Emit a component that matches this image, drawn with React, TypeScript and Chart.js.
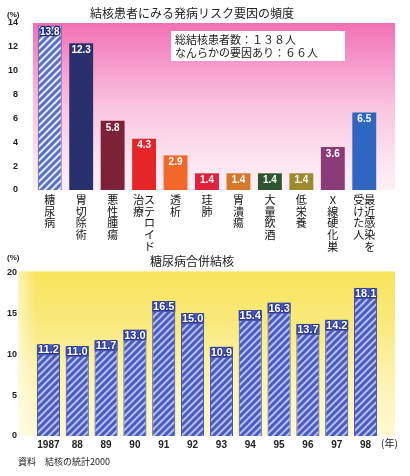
import React, { useEffect, useRef } from 'react';
import { Chart, registerables } from 'chart.js';

Chart.register(...registerables);

// ---------- data ----------
const TOP_TITLE = '結核患者にみる発病リスク要因の頻度';
const NOTE_LINES = ['総結核患者数：１３８人', 'なんらかの要因あり：６６人'];
// each factor: columns of vertical text, right-most column first
const RISK_FACTORS: string[][] = [
  ['糖尿病'],
  ['胃切除術'],
  ['悪性腫瘍'],
  ['ステロイド', '治療'],
  ['透析'],
  ['珪肺'],
  ['胃潰瘍'],
  ['大量飲酒'],
  ['低栄養'],
  ['X線硬化巣'],
  ['最近感染を', '受けた人'],
];
const RISK_VALUES = [13.8, 12.3, 5.8, 4.3, 2.9, 1.4, 1.4, 1.4, 1.4, 3.6, 6.5];
const RISK_TICKS_MAX = 14;
const RISK_TICK_STEP = 2;

const BOTTOM_TITLE = '糖尿病合併結核';
const YEARS = ['1987', '88', '89', '90', '91', '92', '93', '94', '95', '96', '97', '98'];
const DM_VALUES = [11.2, 11.0, 11.7, 13.0, 16.5, 15.0, 10.9, 15.4, 16.3, 13.7, 14.2, 18.1];
const DM_TICKS_MAX = 20;
const DM_TICK_STEP = 5;

const Y_UNIT = '(%)';
const X_UNIT = '(年)';
const SOURCE = '資料　結核の統計2000';

// ---------- styles ----------
const RISK_COLORS = [
  'HATCH',
  '#2a2f6e',
  '#7b2238',
  '#e52528',
  '#f2682a',
  '#e3203c',
  '#d9782a',
  '#2f5430',
  '#9c8a2c',
  '#8b3b78',
  '#2e66c0',
];
const JP = '"Noto Sans CJK JP", "Noto Sans", sans-serif';
const NUM = '"Liberation Sans", Arial, sans-serif';

function verticalLines(cols: string[]): string[] {
  const chars = cols.map((c) => Array.from(c));
  const n = Math.max(...chars.map((c) => c.length));
  const lines: string[] = [];
  for (let i = 0; i < n; i++) {
    let line = '';
    for (let c = chars.length - 1; c >= 0; c--) line += chars[c][i] ?? '　';
    lines.push(line);
  }
  return lines;
}

function makeHatch(ctx: CanvasRenderingContext2D, fg: string, bg: string, size = 7, lw = 3) {
  const c = document.createElement('canvas');
  c.width = size;
  c.height = size;
  const x = c.getContext('2d')!;
  x.fillStyle = bg;
  x.fillRect(0, 0, size, size);
  x.strokeStyle = fg;
  x.lineWidth = lw;
  x.beginPath();
  x.moveTo(-2, size + 2);
  x.lineTo(size + 2, -2);
  x.moveTo(-2, 2);
  x.lineTo(2, -2);
  x.moveTo(size - 2, size + 2);
  x.lineTo(size + 2, size - 2);
  x.stroke();
  return ctx.createPattern(c, 'repeat')!;
}

export default function App() {
  const topRef = useRef<HTMLCanvasElement>(null);
  const botRef = useRef<HTMLCanvasElement>(null);

  useEffect(() => {
    const topCanvas = topRef.current!;
    const botCanvas = botRef.current!;
    const tctx = topCanvas.getContext('2d')!;
    const bctx = botCanvas.getContext('2d')!;

    const topHatch = makeHatch(tctx, '#5a6fc8', '#e6ecff');
    const botHatch = makeHatch(bctx, '#4a5ac0', '#b4c0f0');

    const topPlugin = {
      id: 'topDecor',
      beforeDraw(chart: any) {
        const { ctx, chartArea: a } = chart;
        ctx.save();
        const g = ctx.createLinearGradient(0, a.top, 0, a.bottom);
        g.addColorStop(0, '#f170b4');
        g.addColorStop(0.22, '#f596c8');
        g.addColorStop(0.5, '#f9c4df');
        g.addColorStop(0.8, '#fce2ef');
        g.addColorStop(1, '#fdf0f6');
        ctx.fillStyle = g;
        ctx.fillRect(a.left - 1, a.top, a.right - a.left + 16, a.bottom - a.top);
        // title
        ctx.fillStyle = '#222';
        ctx.font = `12px ${JP}`;
        ctx.textAlign = 'center';
        ctx.textBaseline = 'middle';
        ctx.fillText(TOP_TITLE, 192, 13);
        // unit
        ctx.font = `bold 8px ${NUM}`;
        ctx.textAlign = 'left';
        ctx.fillText(Y_UNIT, 7, 15);
        // note box
        ctx.fillStyle = '#ffffff';
        ctx.fillRect(171, 31, 174, 30);
        ctx.fillStyle = '#222';
        ctx.font = `11px ${JP}`;
        ctx.fillText(NOTE_LINES[0], 175, 40);
        ctx.fillText(NOTE_LINES[1], 175, 53);
        ctx.restore();
      },
      afterDatasetsDraw(chart: any) {
        const { ctx } = chart;
        const meta = chart.getDatasetMeta(0);
        const data = chart.data.datasets[0].data as number[];
        ctx.save();
        ctx.font = `bold 10px ${NUM}`;
        ctx.textAlign = 'center';
        ctx.textBaseline = 'middle';
        meta.data.forEach((bar: any, i: number) => {
          const t = data[i].toFixed(1);
          if (i === 0) {
            ctx.strokeStyle = '#1d2a6a';
            ctx.lineWidth = 2.5;
            ctx.lineJoin = 'round';
            ctx.strokeText(t, bar.x, bar.y + 7);
          }
          ctx.fillStyle = '#ffffff';
          ctx.fillText(t, bar.x, bar.y + 7);
        });
        ctx.restore();
      },
    };

    const topChart = new Chart(topCanvas, {
      type: 'bar',
      data: {
        labels: RISK_FACTORS.map(verticalLines),
        datasets: [
          {
            data: RISK_VALUES,
            backgroundColor: RISK_COLORS.map((c) => (c === 'HATCH' ? topHatch : c)) as any,
            borderColor: RISK_COLORS.map((c) => (c === 'HATCH' ? '#4050a8' : c)),
            borderWidth: RISK_COLORS.map((c) => (c === 'HATCH' ? 1 : 0)),
            categoryPercentage: 1,
            barPercentage: 0.76,
          },
        ],
      },
      options: {
        responsive: false,
        animation: false,
        layout: { padding: { top: 23, right: 30, left: 0, bottom: 0 } },
        plugins: {
          legend: { display: false },
          tooltip: { enabled: false },
          title: { display: false },
        },
        scales: {
          x: {
            grid: { display: false, drawTicks: false },
            border: { display: false },
            ticks: {
              font: { family: JP, size: 11, lineHeight: 1.06 },
              color: '#111',
              padding: 4,
              maxRotation: 0,
              minRotation: 0,
              autoSkip: false,
            },
            afterFit: (s: any) => {
              s.height = 66;
            },
          },
          y: {
            min: 0,
            max: RISK_TICKS_MAX,
            grid: { display: false, drawTicks: false },
            border: { display: false },
            ticks: {
              stepSize: RISK_TICK_STEP,
              font: { family: NUM, size: 9, weight: 'bold' },
              color: '#222',
              padding: 16,
            },
            afterFit: (s: any) => {
              s.width = 34;
            },
          },
        },
      } as any,
      plugins: [topPlugin],
    });

    const botPlugin = {
      id: 'botDecor',
      beforeDraw(chart: any) {
        const { ctx, chartArea: a } = chart;
        ctx.save();
        const left = 18;
        const right = a.right + 15;
        const g = ctx.createLinearGradient(0, a.top, 0, a.bottom);
        g.addColorStop(0, '#f8e45a');
        g.addColorStop(0.3, '#f9e97c');
        g.addColorStop(0.6, '#fcf2aa');
        g.addColorStop(1, '#fef9d2');
        ctx.fillStyle = g;
        ctx.fillRect(left, a.top - 1, right - left, a.bottom - a.top + 1);
        const h = ctx.createLinearGradient(left, 0, a.left + 2, 0);
        h.addColorStop(0, 'rgba(255,255,255,0.55)');
        h.addColorStop(1, 'rgba(255,255,255,0)');
        ctx.fillStyle = h;
        ctx.fillRect(left, a.top - 1, a.left + 2 - left, a.bottom - a.top + 1);
        // title
        ctx.fillStyle = '#222';
        ctx.font = `12px ${JP}`;
        ctx.textAlign = 'center';
        ctx.textBaseline = 'middle';
        ctx.fillText(BOTTOM_TITLE, 192, 11);
        ctx.font = `bold 8px ${NUM}`;
        ctx.textAlign = 'left';
        ctx.fillText(Y_UNIT, 7, 8);
        // x unit
        ctx.font = `10px ${JP}`;
        ctx.fillText(X_UNIT, a.right + 1, 193);
        // source
        ctx.font = `9px ${JP}`;
        ctx.fillText(SOURCE, 18, 212);
        ctx.restore();
      },
      afterDatasetsDraw(chart: any) {
        const { ctx } = chart;
        const meta = chart.getDatasetMeta(0);
        const data = chart.data.datasets[0].data as number[];
        ctx.save();
        ctx.font = `bold 11px ${NUM}`;
        ctx.textAlign = 'center';
        ctx.textBaseline = 'middle';
        meta.data.forEach((bar: any, i: number) => {
          const w = bar.width;
          ctx.fillStyle = '#4656b2';
          ctx.fillRect(bar.x - w / 2, bar.y, w, 11);
          const t = data[i].toFixed(1);
          ctx.strokeStyle = '#2a3590';
          ctx.lineWidth = 2;
          ctx.lineJoin = 'round';
          ctx.strokeText(t, bar.x, bar.y + 6);
          ctx.fillStyle = '#ffffff';
          ctx.fillText(t, bar.x, bar.y + 6);
        });
        ctx.restore();
      },
    };

    const botChart = new Chart(botCanvas, {
      type: 'bar',
      data: {
        labels: YEARS,
        datasets: [
          {
            data: DM_VALUES,
            backgroundColor: botHatch as any,
            borderColor: '#3545a0',
            borderWidth: 1,
            categoryPercentage: 1,
            barPercentage: 0.8,
          },
        ],
      },
      options: {
        responsive: false,
        animation: false,
        layout: { padding: { top: 18, right: 30, left: 0, bottom: 0 } },
        plugins: {
          legend: { display: false },
          tooltip: { enabled: false },
          title: { display: false },
        },
        scales: {
          x: {
            grid: { display: false, drawTicks: false },
            border: { display: false },
            ticks: {
              font: { family: NUM, size: 10, weight: 'bold' },
              color: '#222',
              padding: 3,
              maxRotation: 0,
              minRotation: 0,
              autoSkip: false,
            },
            afterFit: (s: any) => {
              s.height = 40;
            },
          },
          y: {
            min: 0,
            max: DM_TICKS_MAX,
            grid: { display: false, drawTicks: false },
            border: { display: false },
            ticks: {
              stepSize: DM_TICK_STEP,
              font: { family: NUM, size: 9, weight: 'bold' },
              color: '#222',
              padding: 17,
            },
            afterFit: (s: any) => {
              s.width = 34;
            },
          },
        },
      } as any,
      plugins: [botPlugin],
    });

    return () => {
      topChart.destroy();
      botChart.destroy();
    };
  }, []);

  return (
    <div style={{ position: 'absolute', left: 0, top: 0, width: 410, height: 476, background: '#ffffff' }}>
      <canvas
        ref={topRef}
        width={410}
        height={256}
        style={{ position: 'absolute', left: 0, top: 0, width: 410, height: 256 }}
      />
      <canvas
        ref={botRef}
        width={410}
        height={226}
        style={{ position: 'absolute', left: 0, top: 250, width: 410, height: 226 }}
      />
    </div>
  );
}
